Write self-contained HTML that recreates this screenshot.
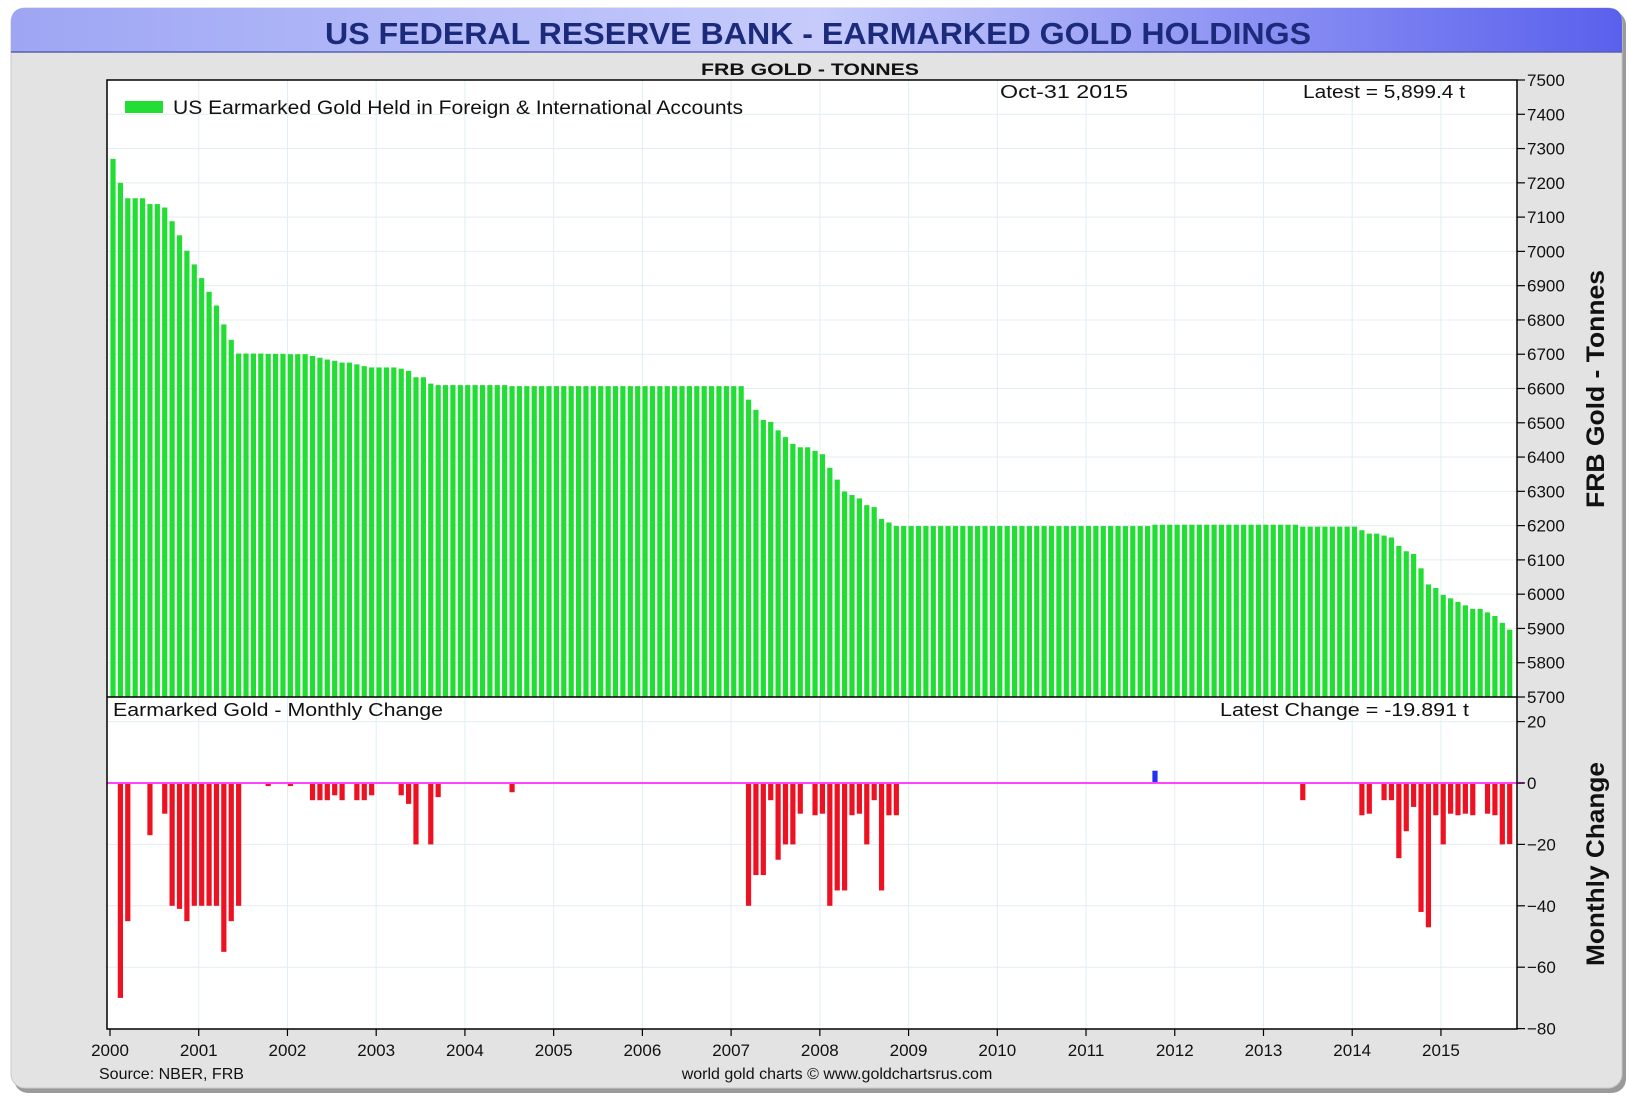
<!DOCTYPE html>
<html><head><meta charset="utf-8"><style>
html,body{margin:0;padding:0;background:#fff;}
svg{display:block;font-family:"Liberation Sans",sans-serif;}
</style></head><body>
<svg id="s" width="1628" height="1098" xmlns="http://www.w3.org/2000/svg">
<defs>
<linearGradient id="tg" x1="0" x2="1" y1="0" y2="0">
<stop offset="0" stop-color="#9ea6f4"/><stop offset="0.5" stop-color="#c6cbfb"/><stop offset="1" stop-color="#5a60ec"/>
</linearGradient>
</defs>
<rect x="14" y="11" width="1612" height="1082" rx="14" fill="#9a9a9a"/>
<rect x="11" y="8" width="1611" height="1080" rx="14" fill="#e3e3e3" stroke="#c8c8c8"/>
<path d="M11 52 L11 22 Q11 8 25 8 L1608 8 Q1622 8 1622 22 L1622 52 Z" fill="url(#tg)"/>
<line x1="11" y1="52" x2="1622" y2="52" stroke="#5a5fb0" stroke-width="1.5"/>
<text x="818" y="44" text-anchor="middle" font-size="31" font-weight="bold" fill="#1c2a7c" textLength="986" lengthAdjust="spacingAndGlyphs">US FEDERAL RESERVE BANK - EARMARKED GOLD HOLDINGS</text>
<text x="810" y="75" text-anchor="middle" font-size="17" font-weight="bold" fill="#111" textLength="218" lengthAdjust="spacingAndGlyphs">FRB GOLD - TONNES</text>
<rect x="107" y="80" width="1410" height="949" fill="#fff"/>
<g id="grid" stroke="#e2eef3" stroke-width="1"></g>
<g id="bars"></g>
<line x1="107" y1="783" x2="1524" y2="783" stroke="#ff44ff" stroke-width="2"/>
<rect x="107" y="80" width="1410" height="949" fill="none" stroke="#000" stroke-width="1.5"/>
<line x1="107" y1="697" x2="1517" y2="697" stroke="#000" stroke-width="1.5"/>
<g id="ticks" stroke="#000" stroke-width="1.2"></g>
<g id="labels" font-size="17" fill="#111"></g>
<rect x="125" y="101" width="38" height="12" fill="#22dd33"/>
<text x="173" y="114" font-size="19" fill="#111" textLength="570" lengthAdjust="spacingAndGlyphs">US Earmarked Gold Held in Foreign &amp; International Accounts</text>
<text x="1000" y="98" font-size="18" fill="#111" textLength="128" lengthAdjust="spacingAndGlyphs">Oct-31  2015</text>
<text x="1303" y="98" font-size="18" fill="#111" textLength="162" lengthAdjust="spacingAndGlyphs">Latest = 5,899.4 t</text>
<text x="113" y="716" font-size="18" fill="#111" textLength="330" lengthAdjust="spacingAndGlyphs">Earmarked Gold - Monthly Change</text>
<text x="1220" y="716" font-size="18" fill="#111" textLength="249" lengthAdjust="spacingAndGlyphs">Latest Change = -19.891 t</text>
<text transform="translate(1604,389) rotate(-90)" text-anchor="middle" font-size="25" font-weight="bold" fill="#111" textLength="238" lengthAdjust="spacingAndGlyphs">FRB Gold - Tonnes</text>
<text transform="translate(1604,864) rotate(-90)" text-anchor="middle" font-size="25" font-weight="bold" fill="#111" textLength="204" lengthAdjust="spacingAndGlyphs">Monthly Change</text>
<text x="99" y="1079" font-size="16" fill="#111">Source: NBER, FRB</text>
<text x="837" y="1079" text-anchor="middle" font-size="16" fill="#111">world gold charts © www.goldchartsrus.com</text>
</svg>
<script>
var NS="http://www.w3.org/2000/svg";
function el(p,t,a,txt){var e=document.createElementNS(NS,t);for(var k in a)e.setAttribute(k,a[k]);if(txt!=null)e.textContent=txt;document.getElementById(p).appendChild(e);return e;}
function yT(v){return 80+(7500-v)*0.34278;}
function yB(v){return 783-v*3.07;}
for(var v=5800;v<=7400;v+=100)el("grid","line",{x1:107,x2:1517,y1:yT(v),y2:yT(v)});
[20,-20,-40,-60].forEach(function(v){el("grid","line",{x1:107,x2:1517,y1:yB(v),y2:yB(v)});});
for(var y=1;y<=15;y++){var x=110+y*88.73;el("grid","line",{x1:x,x2:x,y1:80,y2:1029});}
var c=new Array(190).fill(0);
var d={1:-70,2:-45,5:-17,7:-10,8:-40,9:-41,10:-45,11:-40,12:-40,13:-40,14:-40,15:-55,16:-45,17:-40,
21:-1,24:-1,27:-5.6,28:-5.6,29:-5.6,30:-4,31:-5.6,33:-5.6,34:-5.6,35:-4,39:-4,40:-6.8,41:-20,43:-20,44:-4.6,
54:-3,86:-40,87:-30,88:-30,89:-5.6,90:-25,91:-20,92:-20,93:-10,95:-10.5,96:-10,97:-40,98:-35,99:-35,100:-10.5,101:-10,102:-20,103:-5.6,104:-35,105:-10.5,106:-10.5,
141:4,161:-5.6,169:-10.5,170:-10,172:-5.6,173:-5.6,174:-24.5,175:-15.7,176:-7.8,177:-42,178:-47,179:-10.5,180:-20,181:-10,182:-10.5,183:-10,184:-10.5,186:-10,187:-10.5,188:-20,189:-19.9};
for(var k in d)c[k]=d[k];
var L=7270;
for(var m=0;m<190;m++){
  var f=(m>=21&&m<=44)?0.93:((m>=86&&m<=106)?0.988:1);
  L+=c[m]*f;
  var cx=113+m*7.39;
  var yt=yT(L);
  el("bars","rect",{x:cx-2.6,y:yt,width:5.2,height:697-yt,fill:"#22dd33"});
  if(c[m]!==0){
    var yb=yB(c[m]);
    if(c[m]<0)el("bars","rect",{x:cx-2.6,y:783,width:5.2,height:yb-783,fill:"#ee1122"});
    else el("bars","rect",{x:cx-2.6,y:yb,width:5.2,height:783-yb,fill:"#2233ee"});
  }
}
for(var v=5700;v<=7500;v+=100){var yy=yT(v);el("ticks","line",{x1:1517,x2:1525,y1:yy,y2:yy});el("labels","text",{x:1527,y:yy+6},String(v));}
[20,0,-20,-40,-60,-80].forEach(function(v){var yy=yB(v);el("ticks","line",{x1:1517,x2:1525,y1:yy,y2:yy});el("labels","text",{x:1527,y:yy+6},v<0?"\u2212"+(-v):String(v));});
for(var y=0;y<=15;y++){var x=110+y*88.73;el("ticks","line",{x1:x,x2:x,y1:1029,y2:1036});el("labels","text",{x:x,y:1056,"text-anchor":"middle"},String(2000+y));}
</script>
</body></html>
